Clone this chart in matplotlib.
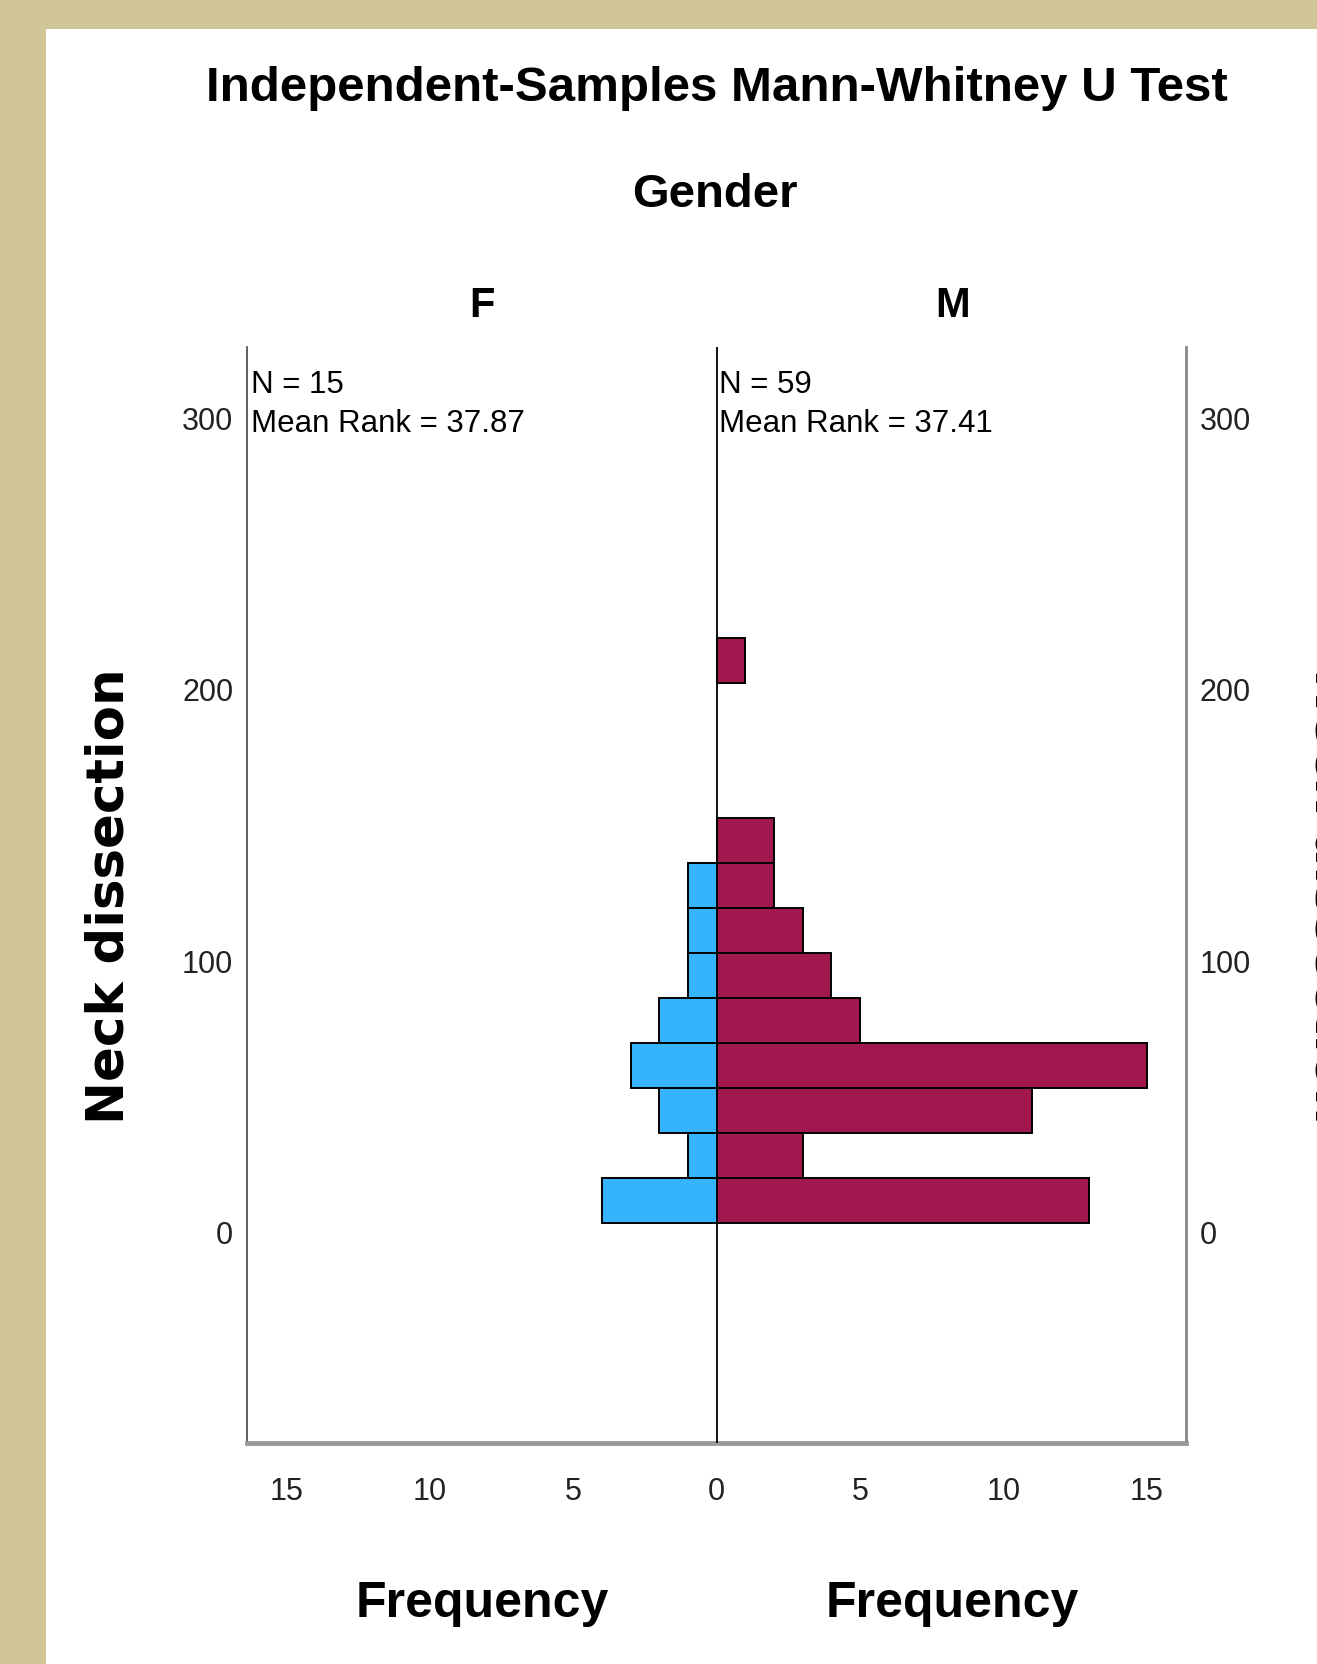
import matplotlib
matplotlib.use("Agg")
import matplotlib.pyplot as plt
from matplotlib.patches import Rectangle

# histogram bins of "Neck dissection" (lower edges ... last upper edge)
BIN_EDGES = [3, 19.6, 36.2, 52.8, 69.4, 86, 102.6, 119.2, 135.8, 152.4,
             169, 185.6, 202.2, 218.8]
FEMALE = [4, 1, 2, 3, 2, 1, 1, 1, 0, 0, 0, 0, 0]
MALE = [13, 3, 11, 15, 5, 4, 3, 2, 2, 0, 0, 0, 1]
YTICKS = [0, 100, 200, 300]
XTICKS = [-15, -10, -5, 0, 5, 10, 15]
XTICKLABELS = ["15", "10", "5", "0", "5", "10", "15"]
F_NOTE = "N = 15\nMean Rank = 37.87"
M_NOTE = "N = 59\nMean Rank = 37.41"

NARROW = ["Liberation Sans Narrow", "Liberation Sans", "DejaVu Sans"]
BLUE, MAROON = "#35b4fb", "#a0184e"

fig = plt.figure(figsize=(13.17, 16.65), dpi=100, facecolor="#cfc596")
fig.patches.append(Rectangle((0.035, 0), 0.965, 0.982, transform=fig.transFigure,
                             facecolor="white", edgecolor="none", zorder=-5))

ax = fig.add_axes([0.1876, 0.1327, 0.7130, 0.6583])
ax.set_facecolor("white")

lows = BIN_EDGES[:-1]
hts = [b - a for a, b in zip(BIN_EDGES[:-1], BIN_EDGES[1:])]
for y, h, f, m in zip(lows, hts, FEMALE, MALE):
    if f:
        ax.barh(y, -f, height=h, align="edge", color=BLUE,
                edgecolor="black", linewidth=1.4, zorder=2)
    if m:
        ax.barh(y, m, height=h, align="edge", color=MAROON,
                edgecolor="black", linewidth=1.4, zorder=2)

ax.axvline(0, color="black", lw=1.3, zorder=3)
ax.set_xlim(-16.37, 16.37)
ax.set_ylim(-78, 326)

ax.set_xticks(XTICKS)
ax.set_xticklabels(XTICKLABELS, family=NARROW, fontsize=22, color="#222222")
ax.set_yticks(YTICKS)
ax.set_yticklabels([str(v) for v in YTICKS], family=NARROW, fontsize=22,
                   color="#222222")
ax.tick_params(axis="x", length=0, pad=24)
ax.tick_params(axis="y", length=0, pad=10, labelleft=True, labelright=True)

ax.spines["top"].set_visible(False)
ax.spines["left"].set_color("#444444")
ax.spines["left"].set_linewidth(1.2)
ax.spines["right"].set_color("#888888")
ax.spines["right"].set_linewidth(2.0)
ax.spines["bottom"].set_color("#999999")
ax.spines["bottom"].set_linewidth(3.5)

ax.annotate(F_NOTE, xy=(0, 1), xycoords="axes fraction", xytext=(3, -16),
            textcoords="offset points", ha="left", va="top", family=NARROW,
            fontsize=22.5, linespacing=1.4)
ax.annotate(M_NOTE, xy=(0.5, 1), xycoords="axes fraction", xytext=(2, -16),
            textcoords="offset points", ha="left", va="top", family=NARROW,
            fontsize=22.5, linespacing=1.4)

fig.text(0.544, 0.947, "Independent-Samples Mann-Whitney U Test", ha="center",
         va="center", family=NARROW, fontsize=35.5, fontweight="bold")
fig.text(0.543, 0.883, "Gender", ha="center", va="center", family=NARROW,
         fontsize=34, fontweight="bold")
fig.text(0.366, 0.816, "F", ha="center", va="center", family=NARROW,
         fontsize=30, fontweight="bold")
fig.text(0.723, 0.816, "M", ha="center", va="center", family=NARROW,
         fontsize=30, fontweight="bold")
for xf in (0.366, 0.723):
    fig.text(xf, 0.0367, "Frequency", ha="center", va="center", family=NARROW,
             fontsize=36, fontweight="bold")

fig.text(0.0835, 0.462, "Neck dissection", rotation=90, ha="center",
         va="center", family="DejaVu Sans", fontsize=37, fontweight="bold")
# mirrored label on the right, cut off by the image edge as in the original
fig.text(1.0095, 0.462, "Neck dissection", rotation=270, ha="center",
         va="center", family="DejaVu Sans", fontsize=37, fontweight="bold")

fig.savefig("out.png", dpi=100, facecolor=fig.get_facecolor())
